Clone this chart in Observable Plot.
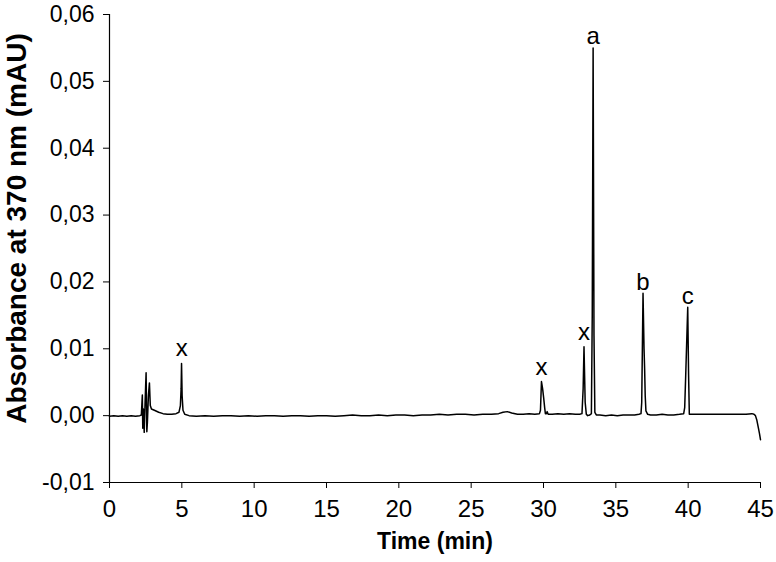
<!DOCTYPE html>
<html>
<head>
<meta charset="utf-8">
<script src="https://cdn.jsdelivr.net/npm/d3@7"></script>
<script src="https://cdn.jsdelivr.net/npm/@observablehq/plot@0.6"></script>
<style>
  html, body { margin: 0; padding: 0; background: #fff; }
  #chart svg { display: block; }
</style>
</head>
<body>
<div id="chart"></div>
<script>
// Chromatogram trace (time in min, absorbance)
const times = [
  0, 0.3, 0.6, 0.9, 1.2, 1.5, 1.8, 2.1, 2.2, 2.27, 2.30, 2.34, 2.40, 2.46, 2.53, 2.58, 2.62, 2.69, 2.76, 2.82, 2.9,
  3.1, 3.4, 3.7, 4.0, 4.3, 4.6, 4.8, 4.9, 4.95, 4.98, 5.02, 5.08, 5.2, 5.5,
  6.0, 6.6, 7.2, 7.8, 8.4, 9.0, 9.6, 10.2, 10.8, 11.4, 12.0, 12.6, 13.2, 13.8, 14.4, 15.0, 15.6, 16.2, 16.8,
  17.4, 18.0, 18.6, 19.2, 19.8, 20.4, 21.0, 21.6, 22.2, 22.8, 23.4, 24.0, 24.6, 25.2, 25.8, 26.4, 26.9,
  27.2, 27.5, 27.8, 28.2, 28.6, 29.0, 29.4, 29.72, 29.79, 29.86, 29.94, 30.01, 30.08, 30.13, 30.2, 30.25, 30.32,
  30.6, 31.0, 31.4, 31.8, 32.2, 32.5, 32.66, 32.74, 32.80, 32.88, 32.96, 33.05, 33.2, 33.31, 33.37, 33.43, 33.49, 33.55,
  33.65, 33.9, 34.3, 34.7, 35.1, 35.5, 35.9, 36.3, 36.6, 36.74, 36.79, 36.88, 36.95, 36.99, 37.03, 37.08, 37.2, 37.4,
  37.8, 38.2, 38.6, 39.0, 39.4, 39.69, 39.76, 39.83, 39.97, 40.03, 40.08, 40.2, 40.6, 41.0, 41.5, 42.0, 42.5,
  43.0, 43.5, 44.0, 44.4, 44.55, 44.65, 44.75, 44.85, 44.93, 45.0
];
const absorbance = [
  -0.0001, 0.0000, -0.0001, 0.0000, -0.0001, 0.0000, -0.0001, 0.0000, 0.0001, 0.0031, -0.0019, 0.0010, -0.0025, 0.0020, 0.0064, -0.0024, -0.0010, 0.0030, 0.0049, 0.0015, 0.0010,
  0.0008, 0.0005, 0.0003, 0.0002, 0.0002, 0.0003, 0.0005, 0.0015, 0.0040, 0.0078, 0.0030, 0.0008, 0.0002, 0.0000,
  -0.0001, 0.0000, -0.0001, 0.0000, 0.0000, -0.0001, 0.0000, -0.0001, 0.0000, 0.0000, -0.0001, 0.0000, 0.0000, -0.0001, 0.0000, 0.0000, -0.0001, 0.0000, 0.0001,
  0.0000, 0.0000, 0.0001, 0.0000, 0.0001, 0.0001, 0.0000, 0.0001, 0.0001, 0.0002, 0.0001, 0.0002, 0.0002, 0.0001, 0.0002, 0.0002, 0.0003,
  0.0005, 0.0006, 0.0004, 0.0002, 0.0002, 0.0003, 0.0002, 0.0003, 0.0008, 0.0051, 0.0040, 0.0027, 0.0012, 0.0003, 0.0003, 0.0006, 0.0002,
  0.0002, 0.0003, 0.0002, 0.0003, 0.0002, 0.0002, 0.0003, 0.0040, 0.0103, 0.0020, 0.0002, 0.0000, 0.0001, 0.0003, 0.0150, 0.0550, 0.0120, 0.0005,
  0.0001, 0.0001, 0.0000, 0.0001, 0.0000, 0.0001, 0.0001, 0.0001, 0.0002, 0.0003, 0.0020, 0.0183, 0.0100, 0.0070, 0.0030, 0.0007, 0.0002, 0.0001,
  0.0001, 0.0002, 0.0001, 0.0001, 0.0002, 0.0003, 0.0012, 0.0060, 0.0162, 0.0060, 0.0002, 0.0002, 0.0002, 0.0002, 0.0002, 0.0002, 0.0002,
  0.0002, 0.0002, 0.0002, 0.0003, 0.0002, 0.0000, -0.0007, -0.0018, -0.0027, -0.0036
];

// Peak labels
const peakLabels = ["x", "x", "x", "a", "b", "c"];
const peakLabelX = [5.0, 29.86, 32.8, 33.43, 36.88, 39.97];
const peakLabelY = [0.0100, 0.0072, 0.0124, 0.0568, 0.0200, 0.0178];

// Axis ticks
const xTicks = [0, 5, 10, 15, 20, 25, 30, 35, 40, 45];
const yTicks = [-0.01, 0.00, 0.01, 0.02, 0.03, 0.04, 0.05, 0.06];

const trace = times.map((t, i) => ({t, v: absorbance[i]}));
const labels = peakLabels.map((s, i) => ({s, x: peakLabelX[i], y: peakLabelY[i]}));

const fontFam = "'Liberation Sans', Arial, Helvetica, sans-serif";

const chart = Plot.plot({
  width: 776,
  height: 562,
  marginLeft: 109,
  marginRight: 16,
  marginTop: 14,
  marginBottom: 80,
  style: {fontFamily: fontFam, fontSize: "22px", color: "#000", background: "#fff", overflow: "visible"},
  x: {domain: [0, 45]},
  y: {domain: [-0.01, 0.06]},
  marks: [
    Plot.axisX({ticks: xTicks, tickSize: 6, tickPadding: 11, fontSize: 24, label: null}),
    Plot.axisY({ticks: yTicks, tickSize: 6, tickPadding: 9, fontSize: 23, label: null,
      tickFormat: d => d.toFixed(2).replace(".", ",")}),
    Plot.ruleX([0], {stroke: "#000", strokeWidth: 1.2}),
    Plot.ruleY([-0.01], {stroke: "#000", strokeWidth: 1.2}),
    Plot.line(trace, {x: "t", y: "v", stroke: "#000", strokeWidth: 1.5, curve: "linear"}),
    Plot.text(labels, {x: "x", y: "y", text: "s", fontSize: 24, fill: "#000"}),
    Plot.text(["Time (min)"], {frameAnchor: "bottom", dy: 66, fontSize: 23, fontWeight: "bold", fill: "#000"}),
    Plot.text(["Absorbance at 370 nm (mAU)"], {frameAnchor: "left", textAnchor: "middle", dx: -92, dy: -20, rotate: -90, fontSize: 28, fontWeight: "bold", fill: "#000"})
  ]
});
document.getElementById("chart").appendChild(chart);
</script>
</body>
</html>
